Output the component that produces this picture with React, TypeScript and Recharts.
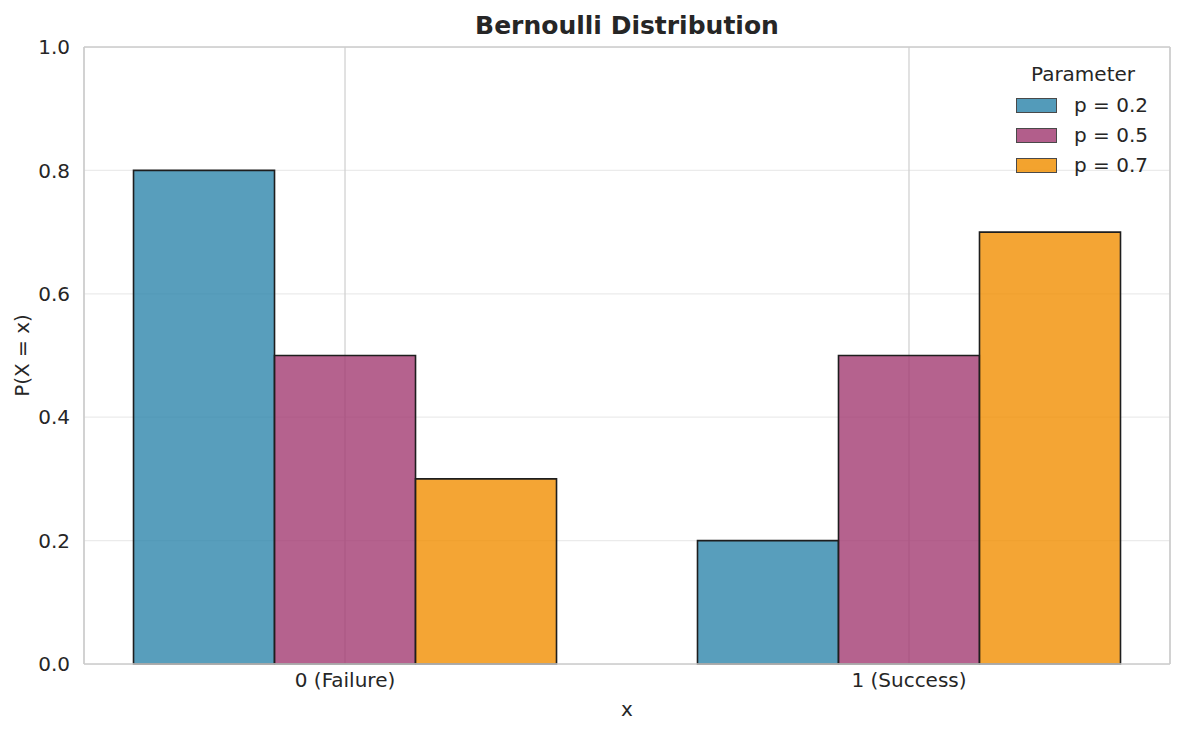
import React from 'react';
import { BarChart, Bar, XAxis, YAxis, CartesianGrid, ReferenceLine } from 'recharts';

const xValues = [0, 1];
const xLabels = ['0 (Failure)', '1 (Success)'];
const seriesNames = ['p = 0.2', 'p = 0.5', 'p = 0.7'];
const p02 = [0.8, 0.2];
const p05 = [0.5, 0.5];
const p07 = [0.3, 0.7];
const yTicks = [0, 0.2, 0.4, 0.6, 0.8, 1.0];
const colors = ['#2E86AB', '#A23B72', '#F18F01'];

const data = xValues.map((x, i) => ({ x, s0: p02[i], s1: p05[i], s2: p07[i] }));

const FONT = 'DejaVu Sans, sans-serif';
const FS = 20;
const X_MIN = -0.4628;
const X_MAX = 1.4628;

const LegendBox = () => (
  <div style={{ position: 'absolute', left: 1016, top: 62, width: 134, fontFamily: FONT, color: '#262626', fontSize: FS }}>
    <div style={{ textAlign: 'center', height: 24, lineHeight: '24px', marginBottom: 4 }}>Parameter</div>
    {seriesNames.map((n, i) => (
      <div key={n} style={{ display: 'flex', alignItems: 'center', height: 30 }}>
        <div style={{ width: 41, height: 15, background: colors[i], opacity: 0.82, border: '1.6px solid #222', boxSizing: 'border-box', flexShrink: 0 }} />
        <span style={{ marginLeft: 17, whiteSpace: 'nowrap' }}>{n}</span>
      </div>
    ))}
  </div>
);

export default function App() {
  return (
    <div style={{ position: 'absolute', left: 0, top: 0, width: 1185, height: 735, background: '#fff' }}>
      <div style={{ position: 'absolute', left: 84, top: 10, width: 1086, textAlign: 'center', fontFamily: FONT, fontWeight: 'bold', fontSize: 25, lineHeight: '32px', color: '#262626' }}>
        Bernoulli Distribution
      </div>
      <BarChart width={1185} height={735} data={data} margin={{ top: 47, right: 15, bottom: 0, left: 0 }} barCategoryGap="12.5%" barGap={0}>
        <CartesianGrid horizontal={true} vertical={false} stroke="#ebebeb" strokeWidth={1.25} />
        <CartesianGrid horizontal={false} vertical={true} stroke="#d0d0d0" strokeWidth={1.25} />
        <XAxis
          dataKey="x"
          type="number"
          domain={[X_MIN, X_MAX]}
          ticks={xValues}
          allowDataOverflow
          height={71}
          tickFormatter={(v: number) => xLabels[xValues.indexOf(v)] ?? ''}
          tickLine={false}
          axisLine={{ stroke: '#cccccc', strokeWidth: 1.5 }}
          tick={{ fill: '#262626', fontSize: FS, fontFamily: FONT }}
          tickMargin={3}
          label={{ value: 'x', position: 'insideBottom', offset: 19, fill: '#262626', fontSize: FS, fontFamily: FONT }}
        />
        <YAxis
          type="number"
          domain={[0, 1]}
          ticks={yTicks}
          tickFormatter={(v: number) => v.toFixed(1)}
          tickLine={false}
          axisLine={{ stroke: '#cccccc', strokeWidth: 1.5 }}
          tick={{ fill: '#262626', fontSize: FS, fontFamily: FONT }}
          tickMargin={8}
          width={84}
          label={{ value: 'P(X = x)', angle: -90, position: 'insideLeft', offset: 22, fill: '#262626', fontSize: FS, fontFamily: FONT, style: { textAnchor: 'middle' } }}
        />
        <ReferenceLine y={1} stroke="#cccccc" strokeWidth={1.5} />
        <ReferenceLine x={X_MAX} stroke="#cccccc" strokeWidth={1.5} />
        {['s0', 's1', 's2'].map((k, i) => (
          <Bar key={k} dataKey={k} name={seriesNames[i]} fill={colors[i]} fillOpacity={0.8} stroke="#1e1e1e" strokeWidth={1.6} isAnimationActive={false} />
        ))}
      </BarChart>
      <LegendBox />
    </div>
  );
}
